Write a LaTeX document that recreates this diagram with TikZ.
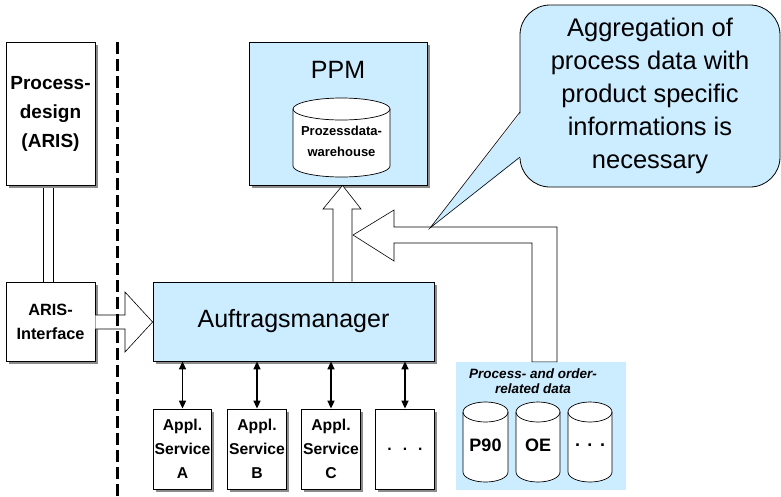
\documentclass[tikz,border=0pt]{standalone}
\usepackage{fontspec}
\setmainfont{Liberation Sans}
\usetikzlibrary{arrows.meta,shadows}

\definecolor{paleblue}{RGB}{204,236,255}

% cylinder: left x, right x, top y, bottom y, y radius
\newcommand{\drum}[5]{%
  \pgfmathsetmacro{\drumrx}{(#2-#1)/2}%
  \draw[fill=white, line width=0.7pt] (#1,#3-#5) -- (#1,#4+#5)
    arc[start angle=180, end angle=360, x radius=\drumrx, y radius=#5]
    -- (#2,#3-#5)
    arc[start angle=0, end angle=180, x radius=\drumrx, y radius=#5] -- cycle;
  \draw[line width=0.7pt] (#1,#3-#5)
    arc[start angle=180, end angle=360, x radius=\drumrx, y radius=#5];
}

\begin{document}
\begin{tikzpicture}[x=1pt, y=1pt,
  box/.style={draw, line width=0.8pt, fill=white, inner sep=0pt, align=center,
    drop shadow={shadow xshift=2.5pt, shadow yshift=-2.5pt, fill=black!45, opacity=1}},
  bluebox/.style={box, fill=paleblue},
  hollow/.style={draw, fill=white, line width=0.6pt, line join=miter},
  link/.style={{Triangle[length=8pt,width=7pt]}-{Triangle[length=8pt,width=7pt]}, line width=1.6pt},
  appl/.style={box, minimum width=58.5pt, minimum height=80pt,
    font=\bfseries\fontsize{15.7}{24}\selectfont}]

  \useasboundingbox (0,0) rectangle (781,-496);

  % ====== left: process design and interface ======
  \draw[hollow] (43,-185) rectangle (53,-282);
  \node[box, minimum width=89pt, minimum height=143pt,
    font=\bfseries\fontsize{19}{29}\selectfont] (design) at (50.5,-113.5) {Process-\\design\\(ARIS)};
  \node[box, minimum width=89pt, minimum height=79pt,
    font=\bfseries\fontsize{16.3}{24}\selectfont] (ariif) at (50.5,-321.5) {ARIS-\\Interface};

  % ====== middle: PPM and Auftragsmanager ======
  \node[bluebox, minimum width=178pt, minimum height=143pt] (ppm) at (338,-113.5) {};
  \node[font=\fontsize{25}{30}\selectfont] (ppmtitle) at (338,-70) {PPM};
  \drum{293}{390}{-98}{-177}{11}
  \node[font=\bfseries\fontsize{13}{21}\selectfont, align=center] (dwh) at (341.5,-141.5) {Prozessdata-\\warehouse};

  \node[bluebox, minimum width=281pt, minimum height=79pt,
    font=\fontsize{25}{30}\selectfont] (auftrag) at (293.5,-321.5) {Auftragsmanager};

  % ====== application services ======
  \node[appl] (appA) at (182.5,-449) {Appl.\\Service\\A};
  \node[appl] (appB) at (257,-449) {Appl.\\Service\\B};
  \node[appl] (appC) at (331,-449) {Appl.\\Service\\C};
  \node[appl] (appD) at (405,-449) {.\hspace{11pt}.\hspace{11pt}.};
  \foreach \n in {appA,appB,appC,appD}
    \draw[link] (\n.north) -- (\n.north |- auftrag.south);

  % ====== process- and order-related data ======
  \node[fill=paleblue, minimum width=170pt, minimum height=128pt, inner sep=0pt] (data) at (541,-426) {};
  \node[font=\bfseries\itshape\fontsize{13.5}{15}\selectfont, align=center] (datatitle) at (533,-381.5) {Process- and order-\\related data};
  \drum{463}{508}{-402}{-482}{10}
  \drum{516}{560}{-402}{-482}{10}
  \drum{568}{612}{-402}{-482}{10}
  \node[font=\bfseries\fontsize{18}{22}\selectfont] (p90) at (485.5,-445) {P90};
  \node[font=\bfseries\fontsize{18}{22}\selectfont] (oe) at (538,-445) {OE};
  \node[font=\bfseries\fontsize{18}{22}\selectfont] (more) at (590,-445) {.\hspace{7.5pt}.\hspace{7.5pt}.};

  % ====== hollow arrows ======
  \draw[hollow] (ariif.east |- 0,-315) -- (125,-315) -- (125,-292) -- (auftrag.west |- 0,-322)
    -- (125,-352) -- (125,-329) -- (ariif.east |- 0,-329);
  \draw[hollow] (333,0 |- auftrag.north) -- (333,-209) -- (323,-209) -- (342.5,0 |- ppm.south)
    -- (361,-209) -- (352,-209) -- (352,0 |- auftrag.north);
  \draw[hollow] (353,-235) -- (394,-210) -- (394,-227) -- (557,-227) -- (557,0 |- data.north)
    -- (532,0 |- data.north) -- (532,-243) -- (394,-243) -- (394,-261) -- cycle;

  % ====== callout ======
  \node[draw, fill=paleblue, line width=0.8pt, rounded corners=30pt, minimum width=260pt,
    minimum height=182pt, inner sep=0pt, align=center,
    font=\fontsize{25.5}{33}\selectfont] (note) at (650,-96)
    {Aggregation of\\process data with\\product specific\\informations is\\necessary};
  \fill[paleblue] (521.5,-112) -- (430,-228) -- (521.5,-157) -- cycle;
  \draw[line width=0.6pt] (520,-112) -- (430,-228) -- (520,-157);

  % ====== separator ======
  \draw[line width=3pt, dash pattern=on 12pt off 5pt] (117,-42) -- (117,-496);

\end{tikzpicture}
\end{document}
